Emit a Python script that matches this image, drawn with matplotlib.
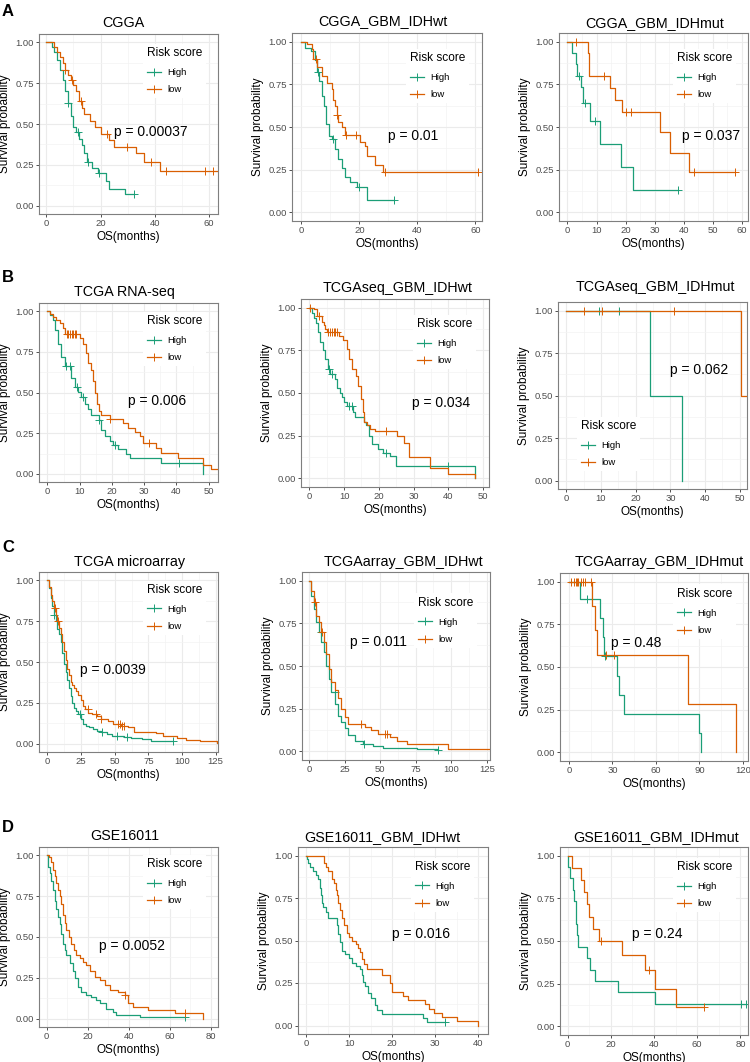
import numpy as np
import matplotlib
matplotlib.use('Agg')
from matplotlib import pyplot as plt
from matplotlib.lines import Line2D

plt.rcParams['font.family'] = ['Liberation Sans', 'DejaVu Sans']

GREEN = '#1B9E77'
ORANGE = '#D95F02'
W, H = 750, 1062

# ---- Kaplan-Meier step values (time in months, survival) ----
# A: CGGA
a1_hi_t = [0, 2, 3, 4, 5, 6, 7, 8, 9, 10, 11, 12, 13, 14, 15, 17, 19, 22, 23, 29, 32.5]
a1_hi_s = [1, .97, .94, .89, .83, .77, .70, .63, .55, .48, .45, .41, .37, .32, .27, .23, .20, .15, .10, .07, .07]
a1_hi_c = [8, 11.5, 15.5, 19.5, 32.5]
a1_lo_t = [0, 3, 4, 5, 6, 7, 8, 9, 10, 11, 12, 13, 14, 16, 18, 20, 23, 25, 33, 36, 42, 63.5]
a1_lo_s = [1, .97, .94, .91, .87, .83, .80, .77, .74, .70, .64, .60, .56, .52, .48, .44, .40, .36, .32, .27, .21, .21]
a1_lo_c = [7, 9.6, 12.7, 22.4, 29.9, 38.7, 44.3, 58.4, 61.5]

a2_hi_t = [0, 1.4, 3.4, 4.6, 5.4, 6.2, 7.1, 7.9, 8.6, 9.4, 10.5, 11.7, 12.8, 14, 15.1, 16.8, 19.1, 22.6, 32]
a2_hi_s = [1, .965, .945, .89, .82, .77, .68, .62, .52, .45, .43, .37, .31, .26, .21, .18, .15, .075, .075]
a2_hi_c = [5.8, 10.8, 20, 32]
a2_lo_t = [0, 2, 3.7, 4.2, 5.4, 7.1, 8.8, 10.5, 11.1, 11.7, 12.3, 12.8, 14, 15.1, 20.3, 22, 22.6, 25.4, 28.3, 61]
a2_lo_s = [1, .985, .955, .90, .85, .80, .76, .72, .66, .62, .57, .53, .50, .455, .41, .39, .33, .28, .235, .235]
a2_lo_c = [5, 12.3, 15.3, 18.9, 29, 61]

a3_hi_t = [0, 1.4, 3.1, 3.4, 4.8, 5.4, 7.9, 11.3, 18.3, 22.6, 38]
a3_hi_s = [1, .933, .867, .80, .733, .64, .533, .40, .267, .133, .133]
a3_hi_c = [3.9, 6.0, 9.6, 38]
a3_lo_t = [0, 7.0, 7.5, 14.5, 16.3, 18.9, 32.0, 35.4, 41.7, 57.5]
a3_lo_s = [1, .933, .80, .73, .66, .585, .468, .35, .234, .234]
a3_lo_c = [2.9, 12.6, 20.0, 21.8, 43.5, 57.5]

# B: TCGA RNA-seq
b1_hi_t = [0, 0.7, 1.8, 2.3, 3.3, 4.3, 5.4, 7.4, 8.5, 9.5, 10.5, 11.6, 12.6, 13.6, 15.9, 16.5, 17.8,
           19.3, 20.4, 21.9, 24.5, 25.5, 35.3, 48.2]
b1_hi_s = [1, .975, .945, .885, .80, .72, .66, .59, .535, .505, .47, .43, .40, .36, .33, .27, .23,
           .20, .18, .15, .125, .095, .065, 0]
b1_hi_c = [5.9, 6.9, 9.2, 11, 16, 21, 40.7]
b1_lo_t = [0, 0.7, 1.8, 2.8, 3.8, 4.9, 5.4, 10, 11, 11.9, 12.6, 13.6, 14.2, 14.9, 15.4, 15.9, 16.7,
           19.3, 23.4, 25, 27.1, 28.6, 29.6, 33.8, 35.3, 40.5, 48.2, 50.6, 53]
b1_lo_s = [1, .985, .965, .945, .925, .895, .86, .835, .80, .74, .68, .64, .57, .50, .43, .385, .36,
           .34, .31, .28, .26, .23, .19, .16, .13, .095, .055, .03, .03]
b1_lo_c = [6, 6.5, 7, 7.5, 8, 8.5, 9, 19.5, 31.4]

b2_hi_t = [0, 0.8, 1.2, 1.9, 2.5, 3.2, 3.9, 4.6, 5.3, 6, 7.5, 8.1, 8.7, 9.4, 10.1, 10.8, 12.7, 13.2,
           15.6, 16.3, 17.2, 18, 19.9, 21.3, 23.2, 24.9, 47.6]
b2_hi_s = [1, .97, .94, .91, .855, .80, .75, .70, .64, .61, .58, .53, .50, .475, .445, .426, .39, .357,
           .33, .31, .25, .20, .17, .15, .13, .075, 0]
b2_hi_c = [5.6, 6.4, 11.5, 12.2, 22, 40]
b2_lo_t = [0, 1.2, 2.2, 3.6, 4.1, 4.6, 5.1, 8.4, 9.8, 10.8, 11.5, 12.2, 13.5, 14.1, 14.8, 15.3, 15.8,
           16.5, 17.5, 18.9, 25.1, 27.2, 28.8, 34.7, 40, 47.6]
b2_lo_s = [1, .99, .953, .914, .895, .875, .855, .836, .81, .76, .70, .64, .60, .54, .465, .387, .328,
           .31, .29, .28, .25, .21, .123, .064, .025, 0]
b2_lo_c = [0.3, 2.8, 5.5, 6, 6.5, 7, 7.5, 8, 22]

b3_hi_t = [0, 24.2, 33.4]
b3_hi_s = [1, .5, 0]
b3_hi_c = [9.3, 15.1]
b3_lo_t = [0, 50.4, 52.5]
b3_lo_s = [1, .5, .5]
b3_lo_c = [5.1, 10.3, 31]

# C: TCGA microarray
c1_hi_t = [0, 1.2, 2.5, 3.7, 5, 6.2, 7.4, 8.7, 9.9, 11.1, 12.4, 13.6, 14.9, 16.1, 17.3, 18.6, 19.8, 21,
           22.8, 24.8, 26.5, 29, 31, 34, 37, 40, 44, 48, 52, 57, 62, 70, 77, 85, 93.5]
c1_hi_s = [1, .95, .89, .84, .79, .75, .70, .67, .62, .555, .49, .44, .39, .34, .29, .25, .22, .20,
           .18, .15, .12, .11, .10, .09, .08, .07, .06, .05, .045, .04, .035, .03, .02, .015, .015]
c1_hi_c = [5, 24, 40.5, 52, 59.5, 93]
c1_lo_t = [0, 1.2, 2.5, 3.7, 5, 6.2, 7.4, 8.7, 9.9, 11.1, 12.4, 13.6, 14.9, 16.1, 17.3, 18.6, 19.8, 21,
           22.8, 24.8, 26.5, 27.7, 30.2, 33, 37, 40, 45, 49, 55, 60, 64, 81, 86, 96, 103, 113, 126, 129]
c1_lo_s = [1, .96, .91, .87, .83, .79, .75, .71, .67, .62, .57, .51, .46, .42, .38, .36, .34, .32,
           .30, .27, .23, .21, .19, .18, .17, .15, .14, .12, .11, .10, .075, .065, .045, .035, .025, .015, .008, .008]
c1_lo_c = [6, 8, 30, 36, 40, 52.5, 54, 55.5, 57]

c2_hi_t = [0, 1.6, 3.3, 5.2, 6.8, 8.7, 10.3, 12.2, 13.9, 15.7, 18.1, 20.4, 22.8, 25.1, 27.5, 32.2,
           38.1, 45.1, 52.2, 75.7, 91]
c2_hi_s = [1, .91, .834, .756, .698, .64, .58, .50, .425, .347, .28, .21, .17, .14, .094, .064,
           .045, .03, .02, .016, .01]
c2_hi_c = [8.5, 18, 39, 91]
c2_lo_t = [0, 1.6, 3.3, 5.2, 6.8, 8.7, 10.3, 12.2, 13.9, 15.7, 18.1, 20.4, 22.8, 25.1, 27.5, 39.2,
           43.9, 48.6, 56.9, 61.6, 68.6, 98, 129]
c2_lo_s = [1, .94, .873, .795, .756, .70, .64, .57, .483, .405, .357, .31, .25, .20, .162, .142,
           .123, .103, .084, .064, .045, .016, .006]
c2_lo_c = [4, 9, 36.4, 53.3, 55]

c3_hi_t = [0, 8, 21.8, 23.4, 24.5, 33, 34.8, 38.2, 89.8, 90.9]
c3_hi_s = [1, .90, .787, .675, .5625, .45, .338, .225, .1125, 0]
c3_hi_c = [12.5, 25]
c3_lo_t = [0, 15.9, 17.7, 19.3, 82, 115]
c3_lo_s = [1, .857, .714, .571, .286, 0]
c3_lo_c = [1.4, 3.4, 4.8, 5.7, 6.6, 8.2, 9.8, 10.9, 15.5, 25.7, 30.9]

# D: GSE16011
d1_hi_t = [0, 0.65, 1.5, 2.3, 3.1, 3.9, 4.7, 5.5, 6.3, 7.2, 8, 8.8, 9.6, 11.2, 12.8, 14.1, 15.3, 16.9,
           19.3, 21.8, 24.2, 25.9, 29.1, 32.4, 34, 45.4, 67.3]
d1_hi_s = [1, .93, .89, .84, .79, .72, .67, .625, .58, .52, .46, .42, .39, .34, .29, .25, .196, .165,
           .145, .135, .114, .094, .063, .043, .022, .012, .012]
d1_hi_c = [67.3]
d1_lo_t = [0, 1.1, 2.3, 3.1, 3.9, 4.7, 5.5, 6.3, 7.2, 8, 8.8, 9.6, 10.9, 12, 13.2, 14.5, 16.1, 17.7,
           19.3, 21, 23.4, 25.9, 28.3, 30.7, 34.8, 38, 39.7, 42.1, 49.4, 62.4, 76.3]
d1_lo_s = [1, .99, .96, .91, .87, .83, .79, .75, .70, .635, .585, .543, .50, .46, .42, .39, .37, .35,
           .33, .29, .257, .237, .206, .176, .165, .145, .094, .073, .053, .033, 0]
d1_lo_c = [38, 67.3]

d2_hi_t = [0, 0.15, 0.5, 0.8, 1.6, 2.3, 2.7, 3.3, 3.5, 3.7, 4.0, 4.5, 5.0, 7.2, 7.5, 7.8, 8.3, 9, 10,
           10.7, 11.5, 12.5, 13, 13.3, 13.8, 14.3, 15, 16, 16.5, 17.7, 27.2, 28, 32.4]
d2_hi_s = [1, .977, .955, .93, .91, .885, .86, .81, .77, .72, .70, .67, .63, .59, .54, .49, .44, .42, .395,
           .37, .35, .33, .30, .256, .23, .19, .16, .12, .09, .07, .047, .023, .023]
d2_hi_c = [32.4]
d2_lo_t = [0, 4.1, 4.6, 5, 5.9, 6.5, 7, 7.2, 7.5, 7.8, 8.3, 8.8, 9.5, 10, 10.7, 11.6, 12, 12.6, 13,
           13.4, 14.1, 17.7, 19.4, 20, 22.6, 23.6, 27.6, 28.5, 29.7, 31.5, 35.2, 40]
d2_lo_s = [1, .955, .93, .91, .86, .84, .80, .77, .72, .68, .63, .59, .545, .52, .50, .48, .455, .43, .39,
           .36, .33, .30, .25, .20, .175, .15, .125, .10, .075, .05, .025, 0]
d2_lo_c = []

d3_hi_t = [0, 0.3, 1.1, 2.6, 3.1, 3.7, 4.5, 4.9, 9.1, 10.6, 12.9, 23.4, 40.4, 82.7]
d3_hi_s = [1, .933, .867, .80, .733, .60, .533, .467, .40, .333, .267, .20, .133, .133]
d3_hi_c = [80.4, 82.7]
d3_lo_t = [0, 2.2, 6.2, 7.7, 8.8, 10, 11.9, 14.6, 25, 35.7, 40.4, 50, 63]
d3_lo_s = [1, .929, .857, .786, .714, .643, .571, .50, .417, .333, .222, .111, .111]
d3_lo_c = [15.4, 37.8, 63]

titles = ['CGGA', 'CGGA_GBM_IDHwt', 'CGGA_GBM_IDHmut',
          'TCGA RNA-seq', 'TCGAseq_GBM_IDHwt', 'TCGAseq_GBM_IDHmut',
          'TCGA microarray', 'TCGAarray_GBM_IDHwt', 'TCGAarray_GBM_IDHmut',
          'GSE16011', 'GSE16011_GBM_IDHwt', 'GSE16011_GBM_IDHmut']
pvals = ['p = 0.00037', 'p = 0.01', 'p = 0.037',
         'p = 0.006', 'p = 0.034', 'p = 0.062',
         'p = 0.0039', 'p = 0.011', 'p = 0.48',
         'p = 0.0052', 'p = 0.016', 'p = 0.24']
groups = ['High', 'low']

curves = [
    (a1_hi_t, a1_hi_s, a1_hi_c, a1_lo_t, a1_lo_s, a1_lo_c),
    (a2_hi_t, a2_hi_s, a2_hi_c, a2_lo_t, a2_lo_s, a2_lo_c),
    (a3_hi_t, a3_hi_s, a3_hi_c, a3_lo_t, a3_lo_s, a3_lo_c),
    (b1_hi_t, b1_hi_s, b1_hi_c, b1_lo_t, b1_lo_s, b1_lo_c),
    (b2_hi_t, b2_hi_s, b2_hi_c, b2_lo_t, b2_lo_s, b2_lo_c),
    (b3_hi_t, b3_hi_s, b3_hi_c, b3_lo_t, b3_lo_s, b3_lo_c),
    (c1_hi_t, c1_hi_s, c1_hi_c, c1_lo_t, c1_lo_s, c1_lo_c),
    (c2_hi_t, c2_hi_s, c2_hi_c, c2_lo_t, c2_lo_s, c2_lo_c),
    (c3_hi_t, c3_hi_s, c3_hi_c, c3_lo_t, c3_lo_s, c3_lo_c),
    (d1_hi_t, d1_hi_s, d1_hi_c, d1_lo_t, d1_lo_s, d1_lo_c),
    (d2_hi_t, d2_hi_s, d2_hi_c, d2_lo_t, d2_lo_s, d2_lo_c),
    (d3_hi_t, d3_hi_s, d3_hi_c, d3_lo_t, d3_lo_s, d3_lo_c),
]

# layout: axes box in pixels (left, top, right, bottom), xlim, x tick step,
# title centre (px), p-value position (data), legend anchor (axes fraction)
layout = [
    ((39, 34, 218, 214), (-2.7, 63.3), 20, (123, 23), (25, 0.45), (0.555, 0.973)),
    ((292, 33, 482, 221), (-3.2, 62.3), 20, (383, 21), (30, 0.45), (0.575, 0.942)),
    ((559, 33, 748, 221), (-2.9, 62.1), 10, (655, 23), (39.5, 0.45), (0.578, 0.942)),
    ((39, 303, 218, 482), (-2.6, 52.9), 10, (124, 292), (25, 0.45), (0.555, 0.978)),
    ((301, 299, 489, 487), (-2.4, 51.7), 10, (398, 288), (29.6, 0.44), (0.57, 0.942)),
    ((558, 302, 747, 489), (-2.4, 52.1), 10, (655, 287), (29.8, 0.65), (0.075, 0.412)),
    ((39, 572, 218, 752), (-6.2, 126.7), 25, (129, 562), (24, 0.45), (0.555, 0.979)),
    ((302, 572, 490, 760), (-4.9, 127.3), 25, (403, 562), (29, 0.64), (0.57, 0.912)),
    ((560, 573, 748, 761), (-6.1, 123.5), 30, (659, 562), (29, 0.64), (0.576, 0.964)),
    ((39, 847, 218, 1027), (-3.7, 83.6), 20, (125, 836), (25.4, 0.445), (0.555, 0.984)),
    ((298, 847, 488, 1034), (-1.9, 42.3), 10, (382, 837), (20, 0.54), (0.57, 0.969)),
    ((560, 847, 748, 1035), (-3.5, 83.5), 20, (656, 837), (30, 0.54), (0.576, 0.969)),
]
letters = [('A', 12), ('B', 277), ('C', 548), ('D', 827)]


def surv_at(t, s, x):
    i = np.searchsorted(t, x, side='right') - 1
    return np.asarray(s)[i]


def draw_curve(ax, t, s, cens, color):
    ax.step(t, s, where='post', color=color, lw=0.9)
    if len(cens):
        ax.plot(cens, surv_at(t, s, cens), ls='none', marker='+', ms=6,
                mew=0.7, color=color)


fig = plt.figure(figsize=(W / 100, H / 100), dpi=100)

for k in range(12):
    (l, t, r, b), xlim, step, tpos, ppos, lpos = layout[k]
    ax = fig.add_axes([l / W, 1 - b / H, (r - l) / W, (b - t) / H])
    hi_t, hi_s, hi_c, lo_t, lo_s, lo_c = curves[k]
    draw_curve(ax, hi_t, hi_s, hi_c, GREEN)
    draw_curve(ax, lo_t, lo_s, lo_c, ORANGE)

    ax.set_xlim(xlim)
    ax.set_ylim(-0.05, 1.05)
    xt = np.arange(0, xlim[1] + 0.01, step)
    ax.set_xticks(xt)
    ax.set_xticks(np.arange(step / 2, xlim[1], step), minor=True)
    ax.set_yticks([0, 0.25, 0.5, 0.75, 1.0])
    ax.set_yticks([0.125, 0.375, 0.625, 0.875], minor=True)
    ax.set_yticklabels(['0.00', '0.25', '0.50', '0.75', '1.00'])
    ax.set_axisbelow(True)
    ax.grid(which='major', color='#EBEBEB', lw=0.8)
    ax.grid(which='minor', color='#F3F3F3', lw=0.5)
    ax.tick_params(which='major', length=2.2, width=0.6, color='#333333',
                   labelsize=6.8, labelcolor='#4D4D4D', pad=1.5)
    ax.tick_params(which='minor', length=0)
    for sp in ax.spines.values():
        sp.set_color('#7F7F7F')
        sp.set_linewidth(0.8)
    ax.set_xlabel('OS(months)', fontsize=8.5, labelpad=2)
    ax.set_ylabel('Survival probability', fontsize=8.5, labelpad=3)

    ax.text(ppos[0], ppos[1], pvals[k], fontsize=10, ha='left', va='center')
    fig.text(tpos[0] / W, 1 - tpos[1] / H, titles[k], fontsize=10.3,
             ha='center', va='center')

    handles = [Line2D([], [], color=c, lw=0.9, marker='+', ms=6, mew=0.7)
               for c in (GREEN, ORANGE)]
    leg = ax.legend(handles, groups, title='Risk score', loc='upper left',
                    bbox_to_anchor=lpos, fontsize=6.8, title_fontsize=8.6,
                    frameon=True, facecolor='white', edgecolor='none',
                    framealpha=1, fancybox=False, handlelength=1.5,
                    handletextpad=0.7, labelspacing=0.9, borderpad=0.4,
                    alignment='left')

for letter, y in letters:
    fig.text(2 / W, 1 - y / H, letter, fontsize=12, fontweight='bold',
             ha='left', va='center')

fig.savefig('out.png', dpi=100)
